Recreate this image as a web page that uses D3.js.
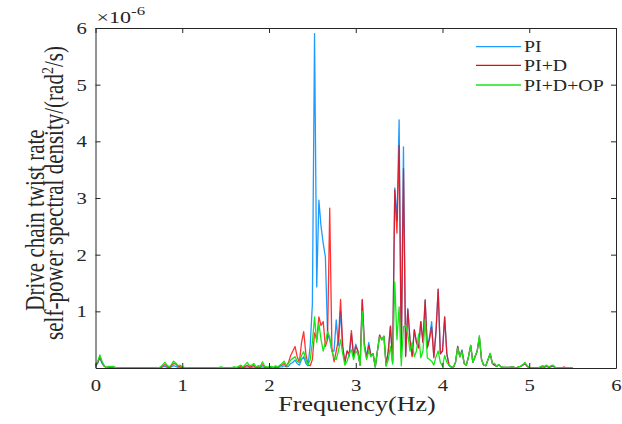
<!DOCTYPE html>
<html>
<head>
<meta charset="utf-8">
<script src="https://cdn.jsdelivr.net/npm/d3@7/dist/d3.min.js"></script>
<style>
html,body{margin:0;padding:0;background:#fff;}
svg{display:block;}
text{font-family:"Liberation Serif","Times New Roman",serif;fill:#262626;}
</style>
</head>
<body>
<svg id="chart" width="622" height="424"></svg>
<script>
// ---- data (values in units of 1e-6 rad^2/s), frequency bins of 0.025 Hz from 0 Hz ----
const freqStep = 0.025;
const xTicks = [0, 1, 2, 3, 4, 5, 6];
const yTicks = [1, 2, 3, 4, 5, 6];
const seriesNames = ["PI", "PI+D", "PI+D+OP"];

const psdPI = [
  .03,.08,.18,.08,.03,.01,.01,.01,.01,0,
  0,0,0,0,0,0,0,0,0,0,
  0,0,0,0,0,0,0,0,0,0,
  0,.02,.03,.01,0,.02,.04,.03,.01,.01,
  0,0,0,0,0,0,0,0,0,0,
  0,0,0,0,0,0,0,0,0,0,
  0,0,0,0,0,0,0,.01,0,.01,
  .02,.01,.01,.02,0,.01,.01,.02,.01,0,
  0,.01,0,.01,0,.02,.02,.04,.02,.03,
  .08,.10,.14,.08,.05,.15,.20,.08,.04,.40,
  1.13,5.90,1.43,2.96,2.50,2.20,1.96,.60,.50,.30,
  .30,.85,.40,1.00,.35,.10,.30,.20,.60,.20,
  .42,.30,.05,1.20,.42,.20,.45,.22,.25,.02,
  .30,.58,.50,.56,.05,.30,.74,.10,3.18,2.60,
  4.38,.20,3.90,.22,1.05,.50,.22,.68,.45,.36,
  .82,.45,1.20,.36,.55,.82,.20,.64,1.39,.25,
  .30,.90,.25,.05,.02,.01,.10,.38,.20,.32,
  .08,.05,.20,.40,.10,.20,.30,.54,.15,.05,
  .04,.15,.25,.08,.05,.03,.06,.02,.01,.01,
  .01,.01,.02,.01,0,.02,.03,.05,.08,.03,
  0,0,0,0,0,0,.02,.01,.03,.01,
  .02,.03,0,0,0,0,0,0,0,0,0
];
const psdPID = [
  .05,.10,.20,.10,.04,.01,.02,.02,.02,.01,
  0,0,0,0,0,0,0,0,0,0,
  0,0,0,0,0,0,0,0,0,0,
  .01,.04,.06,.03,.01,.04,.08,.07,.03,.03,
  .01,0,0,0,0,0,0,0,0,0,
  0,0,0,0,0,0,0,0,0,0,
  0,0,0,0,.01,0,.01,.03,.01,.03,
  .05,.02,.03,.05,.01,.02,.02,.06,.02,.01,
  .01,.02,.01,.02,.01,.04,.05,.08,.03,.10,
  .22,.30,.38,.20,.10,.45,.64,.25,.05,.04,
  .15,.62,.50,.90,.75,.82,.38,.50,2.82,.35,
  .11,.30,.50,1.21,.38,.10,.30,.25,.66,.20,
  .38,.30,.05,1.21,.40,.18,.40,.22,.25,.02,
  .30,.58,.50,.56,.05,.30,.74,.10,3.14,2.38,
  3.93,.18,3.52,.20,1.03,.50,.20,.67,.45,.35,
  .82,.45,1.20,.35,.50,.72,.18,.64,1.39,.25,
  .30,.90,.25,.05,.02,.01,.10,.38,.20,.30,
  .08,.05,.20,.40,.10,.20,.30,.54,.15,.05,
  .04,.15,.25,.08,.05,.03,.06,.02,.01,.01,
  .01,.01,.02,.01,0,.02,.03,.05,.08,.03,
  .01,0,0,0,0,.01,.03,.02,.04,.01,
  .03,.04,.01,0,0,0,.02,0,0,0,0
];
const psdPIDOP = [
  .05,.12,.23,.12,.04,.01,.03,.03,.03,.01,
  0,0,0,0,0,0,0,0,0,0,
  0,0,0,0,0,0,0,0,.01,0,
  .02,.06,.10,.05,.02,.06,.12,.09,.04,.05,
  .02,.01,0,0,0,0,0,0,0,0,
  0,0,0,0,0,0,0,.01,.02,.005,
  0,0,0,.01,.02,.01,.03,.05,.02,.06,
  .10,.04,.05,.08,.02,.04,.03,.11,.03,.02,
  .02,.03,.01,.04,.02,.05,.08,.12,.04,.08,
  .14,.17,.20,.12,.10,.22,.29,.15,.05,.15,
  .45,.90,.45,.79,.50,.30,.45,.64,.55,.30,
  .18,.15,.30,.50,.25,.05,.12,.25,.32,.15,
  .30,.25,.05,1.00,.35,.15,.30,.20,.25,.02,
  .30,.55,.50,.56,.03,.15,.38,.07,1.52,.50,
  1.08,.04,.73,.75,.60,.30,.45,.20,.30,.60,
  .18,.30,.85,.18,.15,.12,.05,.20,.30,.10,
  .03,.22,.10,.05,.02,.01,.10,.35,.20,.28,
  .08,.05,.20,.40,.10,.20,.30,.57,.15,.05,
  .04,.15,.26,.08,.08,.03,.06,.02,.01,.01,
  .01,.01,.02,.01,0,.02,.03,.06,.10,.04,
  .01,0,0,0,0,.02,.04,.03,.05,.02,
  .04,.05,.01,0,0,0,0,0,0,0,0
];

// ---- layout ----
const svg = d3.select("#chart");
const L = 95.5, R = 616, T = 28, B = 368;
const x = d3.scaleLinear().domain([0, 6]).range([L, R]);
const y = d3.scaleLinear().domain([0, 6]).range([B, T]);
const colors = ["#1e9bff", "#ff0000", "#16e616"];
const axisColor = "#262626";

svg.append("defs").append("clipPath").attr("id", "clip")
  .append("rect").attr("x", L).attr("y", T - 2).attr("width", R - L).attr("height", B - T + 2);

// series lines
const seriesData = [psdPI, psdPID, psdPIDOP];
const line = d3.line().x(d => x(d.f)).y(d => y(d.v));
const lineG = svg.append("g").attr("clip-path", "url(#clip)");
seriesData.forEach((vals, k) => {
  const pts = vals.map((v, i) => ({ f: i * freqStep, v }));
  lineG.append("path").datum(pts)
    .attr("d", line)
    .attr("fill", "none")
    .attr("stroke", colors[k])
    .attr("stroke-width", 1.3)
    .attr("stroke-opacity", k === 1 ? 0.8 : 1)
    .attr("stroke-linejoin", "round");
});

// axes
function styleAxis(g) {
  g.selectAll("path.domain").attr("stroke", axisColor).attr("stroke-width", 1);
  g.selectAll(".tick line").attr("stroke", axisColor).attr("stroke-width", 1);
  g.selectAll("text").attr("fill", axisColor)
    .style("font-family", '"Liberation Serif","Times New Roman",serif');
}
const gB = svg.append("g").attr("transform", `translate(0,${B})`)
  .call(d3.axisBottom(x).tickValues(xTicks).tickSizeInner(-5).tickSizeOuter(0).tickPadding(12).tickFormat(d3.format("d")));
styleAxis(gB);
gB.selectAll("text").attr("font-size", 17).attr("dy", null).attr("y", 23)
  .attr("transform", "scale(1.22,1)");

const gT = svg.append("g").attr("transform", `translate(0,${T})`)
  .call(d3.axisTop(x).tickValues(xTicks).tickSizeInner(-5).tickSizeOuter(0).tickFormat(""));
styleAxis(gT);

const gL = svg.append("g").attr("transform", `translate(${L},0)`)
  .call(d3.axisLeft(y).tickValues(yTicks).tickSizeInner(-5).tickSizeOuter(0).tickPadding(7).tickFormat(d3.format("d")));
styleAxis(gL);
gL.selectAll("text").attr("font-size", 17).attr("dy", "0.32em")
  .attr("transform", "scale(1.22,1)");

const gR = svg.append("g").attr("transform", `translate(${R},0)`)
  .call(d3.axisRight(y).tickValues(yTicks).tickSizeInner(-5).tickSizeOuter(0).tickFormat(""));
styleAxis(gR);

// exponent label
const expT = svg.append("text")
  .attr("transform", `translate(${L + 1},23) scale(1.3,1)`)
  .attr("font-size", 17);
expT.append("tspan").text("\u00d710");
expT.append("tspan").attr("font-size", 13).attr("dy", -8).text("-6");

// x title
svg.append("text")
  .attr("transform", `translate(357,411) scale(1.3,1)`)
  .attr("text-anchor", "middle").attr("font-size", 20)
  .text("Frequency(Hz)");

// y title (two lines)
svg.append("text")
  .attr("transform", `translate(44,220) scale(1.25,1) rotate(-90)`)
  .attr("text-anchor", "middle").attr("font-size", 21)
  .text("Drive chain twist rate");
const yt2 = svg.append("text")
  .attr("transform", `translate(63,193) scale(1.25,1) rotate(-90)`)
  .attr("text-anchor", "middle").attr("font-size", 21);
yt2.append("tspan").text("self-power spectral density/(rad");
yt2.append("tspan").attr("font-size", 14).attr("dy", -8).text("2");
yt2.append("tspan").attr("dy", 8).text("/s)");

// legend
const legRows = [46.7, 65.3, 85];
seriesNames.forEach((name, k) => {
  svg.append("line")
    .attr("x1", 476).attr("x2", 521)
    .attr("y1", legRows[k]).attr("y2", legRows[k])
    .attr("stroke", colors[k]).attr("stroke-width", 1.3);
  svg.append("text")
    .attr("transform", `translate(524,${legRows[k] + 5.5}) scale(1.24,1)`)
    .attr("font-size", 16)
    .text(name);
});
</script>
</body>
</html>
